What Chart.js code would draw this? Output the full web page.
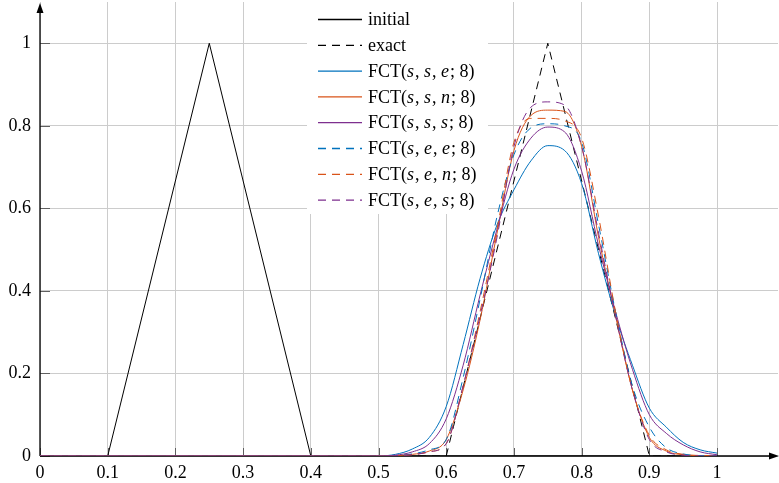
<!DOCTYPE html>
<html>
<head>
<meta charset="utf-8">
<script src="https://cdn.jsdelivr.net/npm/chart.js@4.4.0/dist/chart.umd.min.js"></script>
<style>
  html, body { margin: 0; padding: 0; background: #fff; }
  #wrap { width: 779px; height: 483px; font-family: "Liberation Serif"; }
</style>
</head>
<body>
<div id="wrap"><canvas id="chart" width="779" height="483"></canvas></div>
<script>
// valores
const initialX = [0, 0.1, 0.25, 0.4, 1];
const initialY = [0, 0, 1, 0, 0];
const exactX = [0, 0.6, 0.75, 0.9, 1];
const exactY = [0, 0, 1, 0, 0];

const fctX = [0, 0.5, 0.525, 0.55, 0.575, 0.6, 0.625, 0.65, 0.675, 0.7, 0.725, 0.75, 0.775, 0.8, 0.825, 0.85, 0.875, 0.9, 0.925, 0.95, 0.975, 1];
const fctSSE = [0, 0, 0.004, 0.017, 0.045, 0.12, 0.27, 0.43, 0.56, 0.645, 0.715, 0.752, 0.74, 0.66, 0.49, 0.34, 0.22, 0.116, 0.07, 0.033, 0.015, 0.007];
const fctSSN = [0, 0, 0.001, 0.004, 0.012, 0.04, 0.16, 0.33, 0.54, 0.74, 0.825, 0.838, 0.835, 0.75, 0.53, 0.34, 0.16, 0.045, 0.012, 0.003, 0.001, 0];
const fctSSS = [0, 0, 0.002, 0.01, 0.03, 0.09, 0.22, 0.39, 0.55, 0.695, 0.77, 0.797, 0.785, 0.69, 0.51, 0.35, 0.21, 0.1, 0.055, 0.027, 0.01, 0.003];
const fctSEE = [0, 0, 0.001, 0.005, 0.015, 0.04, 0.19, 0.38, 0.58, 0.73, 0.795, 0.805, 0.8, 0.76, 0.56, 0.35, 0.17, 0.07, 0.02, 0.005, 0.001, 0];
const fctSEN = [0, 0, 0.001, 0.003, 0.01, 0.03, 0.17, 0.35, 0.55, 0.76, 0.818, 0.818, 0.812, 0.77, 0.58, 0.35, 0.16, 0.05, 0.015, 0.004, 0.001, 0];
const fctSES = [0, 0, 0.001, 0.003, 0.01, 0.03, 0.17, 0.34, 0.53, 0.75, 0.845, 0.858, 0.85, 0.75, 0.54, 0.34, 0.16, 0.04, 0.01, 0.002, 0, 0];

const xTicks = [0, 0.1, 0.2, 0.3, 0.4, 0.5, 0.6, 0.7, 0.8, 0.9, 1];
const yTicks = [0, 0.2, 0.4, 0.6, 0.8, 1];

const BLUE = 'rgb(0,114,189)';
const ORANGE = 'rgb(217,83,25)';
const PURPLE = 'rgb(126,47,142)';
const DASH = [8, 6];
const FONT = '"Liberation Serif", "Times New Roman", serif';

function pts(xs, ys) {
  return xs.map((x, i) => ({ x: x, y: ys[i] }));
}

const series = [
  { label: 'initial', data: pts(initialX, initialY), color: '#000', dash: [], smooth: false },
  { label: 'exact', data: pts(exactX, exactY), color: '#000', dash: DASH, smooth: false },
  { label: 'FCT(s, s, e; 8)', data: pts(fctX, fctSSE), color: BLUE, dash: [], smooth: true },
  { label: 'FCT(s, s, n; 8)', data: pts(fctX, fctSSN), color: ORANGE, dash: [], smooth: true },
  { label: 'FCT(s, s, s; 8)', data: pts(fctX, fctSSS), color: PURPLE, dash: [], smooth: true },
  { label: 'FCT(s, e, e; 8)', data: pts(fctX, fctSEE), color: BLUE, dash: DASH, smooth: true },
  { label: 'FCT(s, e, n; 8)', data: pts(fctX, fctSEN), color: ORANGE, dash: DASH, smooth: true },
  { label: 'FCT(s, e, s; 8)', data: pts(fctX, fctSES), color: PURPLE, dash: DASH, smooth: true }
];

// eixos com setas e marcas internas
const axesPlugin = {
  id: 'axesArrows',
  beforeDatasetsDraw(chart) {
    const { ctx, chartArea: a, scales: { x, y } } = chart;
    const x0 = x.getPixelForValue(0);
    const y0 = y.getPixelForValue(0);
    ctx.save();
    ctx.strokeStyle = '#606060';
    ctx.lineWidth = 1;
    ctx.beginPath();
    xTicks.forEach(v => {
      const px = Math.round(x.getPixelForValue(v)) + 0.5;
      ctx.moveTo(px, y0);
      ctx.lineTo(px, y0 - 8);
    });
    yTicks.forEach(v => {
      const py = Math.round(y.getPixelForValue(v)) + 0.5;
      ctx.moveTo(x0, py);
      ctx.lineTo(x0 + 10, py);
    });
    ctx.stroke();

    ctx.strokeStyle = '#000';
    ctx.fillStyle = '#000';
    ctx.lineWidth = 1.3;
    ctx.beginPath();
    ctx.moveTo(x0, y0);
    ctx.lineTo(a.right - 6, y0);
    ctx.moveTo(x0, y0);
    ctx.lineTo(x0, a.top + 6);
    ctx.stroke();
    // setas
    ctx.beginPath();
    ctx.moveTo(a.right + 1, y0);
    ctx.lineTo(a.right - 9, y0 - 3.5);
    ctx.lineTo(a.right - 9, y0 + 3.5);
    ctx.closePath();
    ctx.fill();
    ctx.beginPath();
    ctx.moveTo(x0, a.top + 1);
    ctx.lineTo(x0 - 3.5, a.top + 11);
    ctx.lineTo(x0 + 3.5, a.top + 11);
    ctx.closePath();
    ctx.fill();
    ctx.restore();
  }
};

// legenda com letras em italico
const legendPlugin = {
  id: 'mathLegend',
  afterDatasetsDraw(chart) {
    const ctx = chart.ctx;
    const box = { left: 307, top: 0, width: 181, height: 214 };
    ctx.save();
    ctx.fillStyle = '#fff';
    ctx.fillRect(box.left, box.top, box.width, box.height);
    chart.data.datasets.forEach((ds, i) => {
      const cy = 19.5 + i * 25.8;
      ctx.strokeStyle = ds.borderColor;
      ctx.lineWidth = 1.3;
      ctx.setLineDash(ds.borderDash || []);
      ctx.beginPath();
      ctx.moveTo(318, cy);
      ctx.lineTo(362, cy);
      ctx.stroke();
      ctx.setLineDash([]);

      ctx.fillStyle = '#000';
      ctx.textBaseline = 'middle';
      ctx.textAlign = 'left';
      let tx = 368;
      const inParen = ds.label.indexOf('(') >= 0;
      const parts = inParen ? ds.label.split(/(\b[a-z]\b)/) : [ds.label];
      parts.forEach(p => {
        if (!p) return;
        const italic = inParen && /^[a-z]$/.test(p);
        ctx.font = (italic ? 'italic ' : '') + '18px ' + FONT;
        ctx.fillText(p, tx, cy + 1);
        tx += ctx.measureText(p).width + (italic ? 1 : 0);
      });
    });
    ctx.restore();
  }
};

function drawChart() {
  new Chart(document.getElementById('chart'), {
    type: 'line',
    data: {
      datasets: series.map((s, i) => ({
        label: s.label,
        data: s.data,
        borderColor: s.color,
        backgroundColor: s.color,
        borderDash: s.dash,
        borderWidth: 1,
        pointRadius: 0,
        fill: false,
        tension: 0,
        cubicInterpolationMode: s.smooth ? 'monotone' : 'default',
        order: series.length - i
      }))
    },
    options: {
      responsive: false,
      animation: false,
      devicePixelRatio: 1,
      layout: { padding: { left: 0, top: 2, right: 1, bottom: 0 } },
      plugins: { legend: { display: false }, tooltip: { enabled: false } },
      scales: {
        x: {
          type: 'linear',
          min: 0,
          max: 1.09,
          afterBuildTicks: s => { s.ticks = xTicks.map(v => ({ value: v })); },
          afterFit: s => { s.height = 27; s.paddingLeft = 0; s.paddingRight = 0; },
          border: { display: false },
          grid: { color: '#cccccc', lineWidth: 1, drawTicks: false },
          ticks: {
            padding: 6,
            color: '#000',
            maxRotation: 0,
            autoSkip: false,
            font: { family: FONT, size: 18 },
            callback: v => String(v)
          }
        },
        y: {
          type: 'linear',
          min: 0,
          max: 1.1,
          afterBuildTicks: s => { s.ticks = yTicks.map(v => ({ value: v })); },
          afterFit: s => { s.width = 40; s.paddingTop = 0; s.paddingBottom = 0; },
          border: { display: false },
          grid: { color: '#cccccc', lineWidth: 1, drawTicks: false },
          ticks: {
            padding: 9,
            color: '#000',
            font: { family: FONT, size: 18 },
            callback: v => String(v)
          }
        }
      }
    },
    plugins: [axesPlugin, legendPlugin]
  });
}

if (document.fonts && document.fonts.load) {
  Promise.all([
    document.fonts.load('18px "Liberation Serif"'),
    document.fonts.load('italic 18px "Liberation Serif"')
  ]).then(drawChart, drawChart);
} else {
  drawChart();
}
</script>
</body>
</html>
